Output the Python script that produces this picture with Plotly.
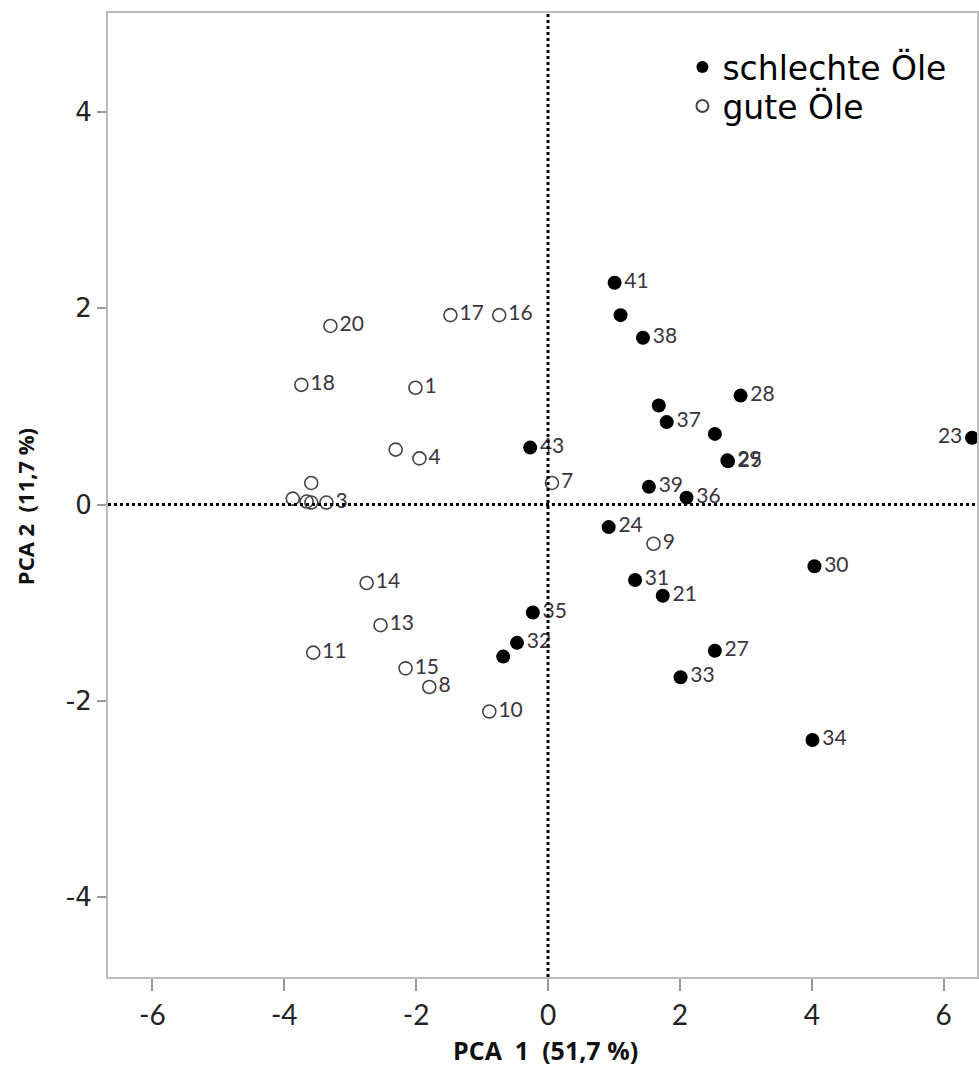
import plotly.graph_objects as go

# Schlechte Öle (filled)
bad_x = [1.01, 1.10, 1.44, 2.92, 1.68, 1.80, 2.53, 2.73, 2.72, 6.43, -0.27, 1.53, 2.10, 0.92, 1.32, 1.74, 4.04, -0.23, -0.47, -0.68, 2.53, 2.01, 4.01]
bad_y = [2.26, 1.93, 1.70, 1.11, 1.01, 0.84, 0.72, 0.44, 0.45, 0.68, 0.58, 0.18, 0.07, -0.23, -0.77, -0.93, -0.63, -1.10, -1.41, -1.55, -1.49, -1.76, -2.40]
bad_lbl = ["41", "", "38", "28", "", "37", "", "25", "29", "23", "43", "39", "36", "24", "31", "21", "30", "35", "32", "", "27", "33", "34"]

# Gute Öle (open)
good_x = [-3.30, -1.48, -0.74, -3.74, -2.01, -2.31, -1.95, 0.06, -3.59, -3.87, -3.66, -3.59, -3.36, 1.60, -2.75, -2.54, -3.56, -2.16, -1.80, -0.89]
good_y = [1.82, 1.93, 1.93, 1.22, 1.19, 0.56, 0.47, 0.22, 0.22, 0.06, 0.03, 0.02, 0.02, -0.40, -0.80, -1.23, -1.51, -1.67, -1.86, -2.11]
good_lbl = ["20", "17", "16", "18", "1", "", "4", "7", "", "", "", "", "3", "9", "14", "13", "11", "15", "8", "10"]

x_ticks = [-6, -4, -2, 0, 2, 4, 6]
y_ticks = [-4, -2, 0, 2, 4]

bad_pos = ["middle left" if l == "23" else "middle right" for l in bad_lbl]
lbl_font = dict(family="Lato", size=21, color="#3a3340")

fig = go.Figure()
fig.add_trace(go.Scatter(
    x=bad_x, y=bad_y, mode="markers+text", name="schlechte Öle", legend="legend",
    text=bad_lbl, textposition=bad_pos, textfont=lbl_font,
    marker=dict(symbol="circle", size=14, color="black"),
))
fig.add_trace(go.Scatter(
    x=good_x, y=good_y, mode="markers+text", name="gute Öle", legend="legend2",
    text=good_lbl, textposition="middle right", textfont=lbl_font,
    marker=dict(symbol="circle-open", size=13, color="#444", line=dict(width=1.6)),
))

fig.add_vline(x=0, line=dict(color="black", width=3, dash="dot"))
fig.add_hline(y=0, line=dict(color="black", width=3, dash="dot"))

leg_common = dict(xanchor="left", yanchor="middle",
                  font=dict(family="DejaVu Sans", size=33, color="black"),
                  bgcolor="rgba(0,0,0,0)", itemsizing="constant")

fig.add_annotation(text="<b>PCA\u00a0\u00a01\u00a0\u00a0(51,7\u00a0%)</b>", xref="paper", yref="paper",
                   x=0.504, y=-0.0757, xanchor="center", yanchor="middle", showarrow=False,
                   font=dict(family="Open Sans", size=25, color="#111"))
fig.add_annotation(text="<b>PCA\u00a02\u00a0\u00a0(11,7\u00a0%)</b>", xref="paper", yref="paper",
                   x=-0.0953, y=0.4876, xanchor="center", yanchor="middle", showarrow=False,
                   textangle=-90, font=dict(family="Open Sans", size=22, color="#111"))

fig.update_layout(
    width=979, height=1068,
    margin=dict(l=108, r=0, t=13, b=91),
    plot_bgcolor="white", paper_bgcolor="white",
    showlegend=True,
    legend=dict(x=0.661, y=0.9440, **leg_common),
    legend2=dict(x=0.661, y=0.9035, **leg_common),
    xaxis=dict(range=[-6.672, 6.505], tickvals=x_ticks, ticktext=[str(v) for v in x_ticks],
               showgrid=False, zeroline=False, showline=True, linecolor="#bbbbbb", linewidth=2,
               mirror=True, ticks="outside", ticklen=12, tickcolor="#999", tickwidth=2,
               tickfont=dict(family="Lato", size=28, color="#222")),
    yaxis=dict(range=[-4.816, 5.01], tickvals=y_ticks, ticktext=[str(v) for v in y_ticks],
               showgrid=False, zeroline=False, showline=True, linecolor="#bbbbbb", linewidth=2,
               mirror=True, ticks="outside", ticklen=9, tickcolor="#999", tickwidth=2,
               tickfont=dict(family="DejaVu Sans", size=26, color="#222")),
)

fig.write_html("out.html")
